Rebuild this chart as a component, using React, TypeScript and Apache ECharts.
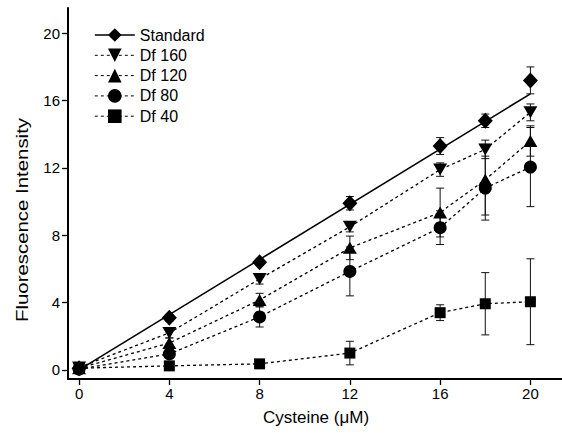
import React, { useEffect, useRef } from "react";
import * as echarts from "echarts";

const xValues = [0, 4, 8, 12, 16, 18, 20];
const tickValues = [0, 4, 8, 12, 16, 20];

const standardY = [0.1, 3.1, 6.4, 9.9, 13.3, 14.8, 17.2];
const standardErr = [0.1, 0.2, 0.2, 0.4, 0.5, 0.4, 0.8];
const df160Y = [0.15, 2.2, 5.4, 8.5, 11.9, 13.1, 15.3];
const df160Err = [0.1, 0.3, 0.3, 0.3, 0.4, 0.55, 0.5];
const df120Y = [0.1, 1.6, 4.15, 7.25, 9.35, 11.3, 13.6];
const df120Err = [0.1, 0.3, 0.4, 0.7, 1.45, 2.1, 0.9];
const df80Y = [0.05, 0.95, 3.15, 5.85, 8.45, 10.8, 12.05];
const df80Err = [0.1, 0.2, 0.6, 1.45, 1.0, 1.9, 2.35];
const df40Y = [0.1, 0.24, 0.36, 1.0, 3.4, 3.93, 4.05];
const df40Err = [0.05, 0.1, 0.1, 0.7, 0.47, 1.85, 2.55];

const fitX = [0, 20];
const fitY = [0, 16.4];

const seriesDefs = [
  { name: "Standard", y: standardY, err: standardErr, symbol: "diamond", size: [15, 16], rotate: 0, dashed: false },
  { name: "Df 160", y: df160Y, err: df160Err, symbol: "triangle", size: [14, 12], rotate: 180, dashed: true },
  { name: "Df 120", y: df120Y, err: df120Err, symbol: "triangle", size: [14, 12], rotate: 0, dashed: true },
  { name: "Df 80", y: df80Y, err: df80Err, symbol: "circle", size: 13, rotate: 0, dashed: true },
  { name: "Df 40", y: df40Y, err: df40Err, symbol: "rect", size: 11, rotate: 0, dashed: true },
];

const FONT = "'Liberation Sans', Arial, Helvetica, sans-serif";

export default function App() {
  const ref = useRef<HTMLDivElement>(null);
  useEffect(() => {
    if (!ref.current) return;
    const chart = echarts.init(ref.current, null, { renderer: "svg" });

    const errData: number[][] = [];
    seriesDefs.forEach((s) => {
      xValues.forEach((x, i) => errData.push([x, s.y[i], s.err[i]]));
    });

    const series: any[] = [];
    series.push({
      type: "custom",
      name: "errors",
      coordinateSystem: "cartesian2d",
      data: errData,
      encode: { x: 0, y: 1 },
      z: 1,
      silent: true,
      renderItem: (params: any, api: any) => {
        const x = api.value(0);
        const y = api.value(1);
        const e = api.value(2);
        const top = api.coord([x, y + e]);
        const bot = api.coord([x, y - e]);
        const hw = 4;
        const st = { stroke: "#111", lineWidth: 1 };
        return {
          type: "group",
          children: [
            { type: "line", shape: { x1: top[0], y1: top[1], x2: bot[0], y2: bot[1] }, style: st },
            { type: "line", shape: { x1: top[0] - hw, y1: top[1], x2: top[0] + hw, y2: top[1] }, style: st },
            { type: "line", shape: { x1: bot[0] - hw, y1: bot[1], x2: bot[0] + hw, y2: bot[1] }, style: st },
          ],
        };
      },
    });
    series.push({
      type: "line",
      name: "fit",
      data: fitX.map((x, i) => [x, fitY[i]]),
      showSymbol: false,
      symbol: "none",
      lineStyle: { color: "#000", width: 1.6, type: "solid" },
      z: 2,
      silent: true,
    });
    seriesDefs.forEach((s) => {
      series.push({
        type: "line",
        name: s.name,
        data: xValues.map((x, i) => [x, s.y[i]]),
        symbol: s.symbol,
        symbolSize: s.size,
        symbolRotate: s.rotate,
        showSymbol: true,
        itemStyle: { color: "#000" },
        lineStyle: s.dashed
          ? { color: "#000", width: 1.3, type: [3, 3] }
          : { color: "#000", width: 0, opacity: 0 },
        z: 3,
      });
    });

    chart.setOption({
      animation: false,
      grid: { left: 68, right: 0, top: 8, bottom: 57, containLabel: false },
      legend: {
        orient: "vertical",
        left: 94,
        top: 27,
        padding: 0,
        itemWidth: 40,
        itemHeight: 17,
        itemGap: 4.3,
        textStyle: { fontFamily: FONT, fontSize: 16, color: "#000" },
        data: seriesDefs.map((s) =>
          s.dashed
            ? { name: s.name, lineStyle: { color: "#000", width: 1, type: [3, 3] } }
            : { name: s.name, lineStyle: { color: "#000", width: 1.6, opacity: 1, type: "solid" } }
        ),
      },
      xAxis: {
        type: "value",
        min: -0.49,
        max: 21.4,
        splitLine: { show: false },
        axisLine: { show: true, onZero: false, lineStyle: { color: "#000", width: 2 } },
        axisTick: { show: true, length: 6, customValues: tickValues, lineStyle: { color: "#000", width: 1.3 } },
        axisLabel: { customValues: tickValues, fontFamily: FONT, fontSize: 15, color: "#000", margin: 7 },
      },
      yAxis: {
        type: "value",
        min: -0.54,
        max: 21.5,
        splitLine: { show: false },
        axisLine: { show: true, onZero: false, lineStyle: { color: "#000", width: 2 } },
        axisTick: { show: true, length: 6, customValues: tickValues, lineStyle: { color: "#000", width: 1.3 } },
        axisLabel: { customValues: tickValues, fontFamily: FONT, fontSize: 15, color: "#000", margin: 8 },
      },
      graphic: [
        {
          type: "text",
          x: 316,
          y: 417,
          style: {
            text: "Cysteine (\u03bcM)",
            fontFamily: FONT,
            fontSize: 17,
            fill: "#000",
            align: "center",
            verticalAlign: "middle",
          },
        },
        {
          type: "text",
          x: 22,
          y: 220,
          rotation: Math.PI / 2,
          scaleX: 1.2,
          style: {
            text: "Fluorescence Intensity",
            fontFamily: FONT,
            fontSize: 17,
            fill: "#000",
            align: "center",
            verticalAlign: "middle",
          },
        },
      ],
      series,
    });
    return () => chart.dispose();
  }, []);
  return <div ref={ref} style={{ width: 562, height: 436, position: "absolute", left: 0, top: 0 }} />;
}
